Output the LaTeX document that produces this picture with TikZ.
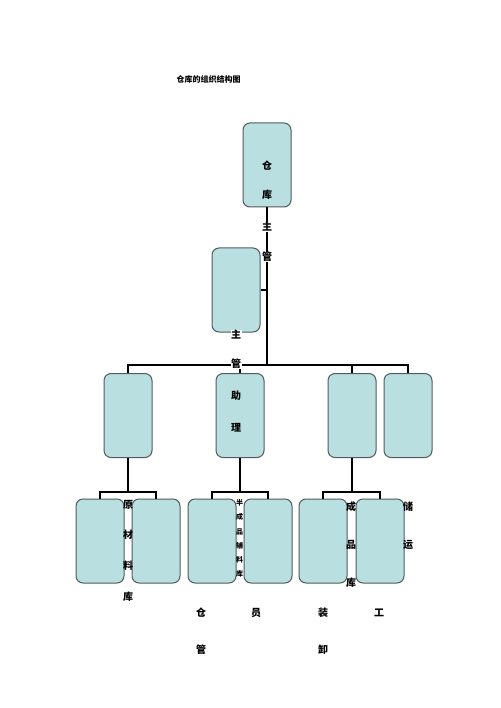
\documentclass[tikz,border=0pt]{standalone}
\usepackage{fontspec}
\newfontfamily\cjk{Noto Sans CJK SC}
\definecolor{boxfill}{HTML}{B9DFE0}
\definecolor{boxline}{HTML}{4F5B5D}
\tikzset{
  post/.style = {draw=boxline, fill=boxfill, rounded corners=7pt, line width=1pt,
                 minimum width=48pt, minimum height=84pt, inner sep=0pt},
  ch/.style   = {font=\cjk\bfseries\fontsize{10}{10}\selectfont, inner sep=0.5pt},
  chw/.style  = {ch, fill=white},
  tiny/.style = {font=\cjk\bfseries\fontsize{7}{7}\selectfont, inner sep=0.3pt},
  bus/.style  = {line width=2.2pt}
}
\begin{document}
\begin{tikzpicture}[x=1pt, y=-1pt]
\useasboundingbox (0,0) rectangle (500,708);
\node[font=\cjk\bfseries\fontsize{8}{8}\selectfont] (title) at (208.5,79) {仓库的组织结构图};
% boxes
\node[post] (top) at (267,165) {};
\node[post] (assist) at (236,290) {};
\node[post] (a) at (128,415.5) {};
\node[post] (b) at (240,415.5) {};
\node[post] (c) at (352,415.5) {};
\node[post] (d) at (408,415.5) {};
\node[post] (a1) at (100,541) {};
\node[post] (a2) at (156,541) {};
\node[post] (b1) at (212,541) {};
\node[post] (b2) at (268,541) {};
\node[post] (c1) at (323,541) {};
\node[post] (c2) at (380,541) {};
% lines
\coordinate (bus) at (267,365);
\draw[bus] (top.south) -- (bus);
\draw[bus] (assist.east) -- (assist.east -| bus);
\draw[bus] (a.north) |- (bus) -| (d.north);
\draw[bus] (b.north) -- (b.north |- bus);
\draw[bus] (c.north) -- (c.north |- bus);
\foreach \p/\l/\r in {a/a1/a2, b/b1/b2, c/c1/c2} {
  \draw[bus] (\p.south) -- ++(0,34) coordinate (\p-bus);
  \draw[bus] (\l.north) |- (\p-bus) -| (\r.north);
}
% texts
\node[ch] (top1) at (267,166) {仓};
\node[ch] (top2) at (267,195) {库};
\node[chw] (top3) at (267,227) {主};
\node[chw] (top4) at (267,257) {管};
\node[chw] (as1) at (236,335) {主};
\node[chw] (as2) at (236,364) {管};
\node[ch] (as3) at (236,396) {助};
\node[ch] (as4) at (236,428) {理};
\foreach \c/\y [count=\i] in {原/505, 材/535, 料/566, 库/597}
  \node[ch] (yl\i) at (128,\y) {\c};
\foreach \c/\y [count=\i] in {半/503, 成/517, 品/532, 辅/546, 料/560, 库/574}
  \node[tiny] (bc\i) at (239.5,\y) {\c};
\foreach \c/\y [count=\i] in {成/507, 品/545, 库/583}
  \node[ch] (cp\i) at (351,\y) {\c};
\foreach \c/\y [count=\i] in {储/507, 运/545}
  \node[ch] (cy\i) at (408,\y) {\c};
\node[ch] (cg1) at (201,613) {仓};
\node[ch] (cg2) at (201,650) {管};
\node[ch] (cg3) at (256,613) {员};
\node[ch] (zx1) at (323,613) {装};
\node[ch] (zx2) at (323,650) {卸};
\node[ch] (zx3) at (379,613) {工};
\end{tikzpicture}
\end{document}
